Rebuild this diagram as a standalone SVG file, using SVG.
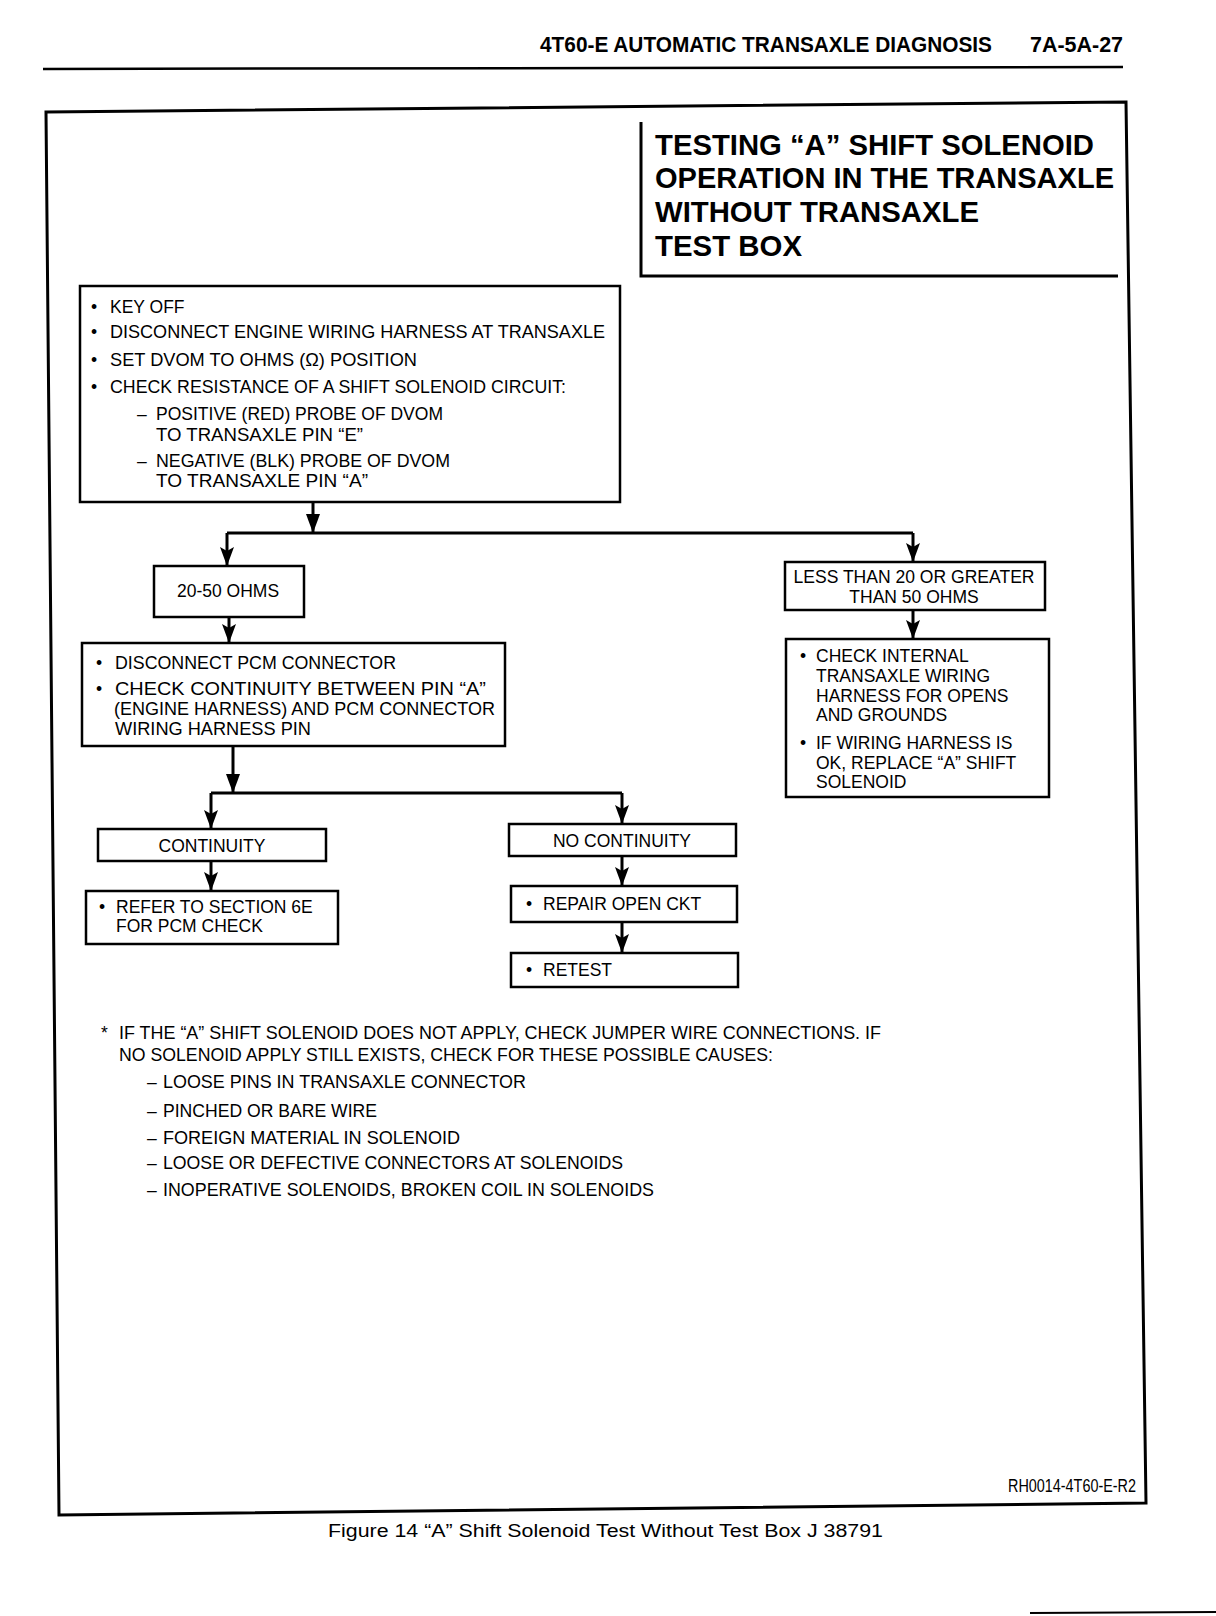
<svg xmlns="http://www.w3.org/2000/svg" width="1216" height="1616" viewBox="0 0 1216 1616">
<style>
.t{font-family:"Liberation Sans",Arial,Helvetica,sans-serif;font-size:17.5px;fill:#000}
.b{font-family:"Liberation Sans",Arial,Helvetica,sans-serif;font-weight:bold;fill:#000}
.box{fill:#fff;stroke:#000;stroke-width:2.5}
.c{stroke:#000;stroke-width:3;fill:none}
.frame{fill:none;stroke:#000;stroke-width:3}
.mid{text-anchor:middle}
</style>
<defs>
<marker id="ah" markerUnits="userSpaceOnUse" markerWidth="20" markerHeight="14" refX="19" refY="7" orient="auto">
<path d="M0,0 L19,7 L0,14 L4,7 z" fill="#000"/>
</marker>
</defs>
<rect width="1216" height="1616" fill="#fff"/>
<g id="header">
<text class="b" x="540" y="52" font-size="22" textLength="452" lengthAdjust="spacingAndGlyphs">4T60-E AUTOMATIC TRANSAXLE DIAGNOSIS</text>
<text class="b" x="1030" y="52" font-size="22" textLength="93" lengthAdjust="spacingAndGlyphs">7A-5A-27</text>
<line x1="43" y1="69" x2="1123" y2="67" stroke="#000" stroke-width="2.5"/>
</g>
<g id="frame">
<polygon class="frame" points="46,112 1126,102 1146,1503 59,1515"/>
</g>
<g id="title">
<path d="M641,122 L641,276 L1118,276" class="c" stroke-width="2"/>
<text class="b" x="655" y="155" font-size="30" textLength="439" lengthAdjust="spacingAndGlyphs">TESTING “A” SHIFT SOLENOID</text>
<text class="b" x="655" y="188" font-size="30" textLength="459" lengthAdjust="spacingAndGlyphs">OPERATION IN THE TRANSAXLE</text>
<text class="b" x="655" y="222" font-size="30" textLength="324" lengthAdjust="spacingAndGlyphs">WITHOUT TRANSAXLE</text>
<text class="b" x="655" y="256" font-size="30" textLength="147" lengthAdjust="spacingAndGlyphs">TEST BOX</text>
</g>
<g id="connectors">
<path class="c" d="M313,502 L313,533"/>
<path class="c" d="M227,533 L913,533"/>
<path class="c" d="M227,533 L227,566" marker-end="url(#ah)"/>
<path class="c" d="M913,533 L913,562" marker-end="url(#ah)"/>
<path class="c" d="M229,617 L229,643" marker-end="url(#ah)"/>
<path class="c" d="M233,746 L233,793"/>
<path class="c" d="M211,793 L622,793"/>
<path class="c" d="M211,793 L211,829" marker-end="url(#ah)"/>
<path class="c" d="M622,793 L622,824" marker-end="url(#ah)"/>
<path class="c" d="M211,861 L211,891" marker-end="url(#ah)"/>
<path class="c" d="M622,856 L622,886" marker-end="url(#ah)"/>
<path class="c" d="M622,922 L622,953" marker-end="url(#ah)"/>
<path class="c" d="M913,610 L913,639" marker-end="url(#ah)"/>
<path d="M313,514 L306,514 L313,533 L320,514 z" fill="#000"/>
<path d="M233,774 L226,774 L233,793 L240,774 z" fill="#000"/>
</g>
<g id="n-start">
<rect class="box" x="80" y="286" width="540" height="216"/>
<text class="t" x="91" y="313">•</text><text class="t" x="110" y="313">KEY OFF</text>
<text class="t" x="91" y="338">•</text><text class="t" x="110" y="338" textLength="495" lengthAdjust="spacingAndGlyphs">DISCONNECT ENGINE WIRING HARNESS AT TRANSAXLE</text>
<text class="t" x="91" y="366">•</text><text class="t" x="110" y="366" textLength="307" lengthAdjust="spacingAndGlyphs">SET DVOM TO OHMS (Ω) POSITION</text>
<text class="t" x="91" y="393">•</text><text class="t" x="110" y="393" textLength="456" lengthAdjust="spacingAndGlyphs">CHECK RESISTANCE OF A SHIFT SOLENOID CIRCUIT:</text>
<text class="t" x="137" y="420">–</text><text class="t" x="156" y="420" textLength="287" lengthAdjust="spacingAndGlyphs">POSITIVE (RED) PROBE OF DVOM</text>
<text class="t" x="156" y="441" textLength="207" lengthAdjust="spacingAndGlyphs">TO TRANSAXLE PIN “E”</text>
<text class="t" x="137" y="467">–</text><text class="t" x="156" y="467" textLength="294" lengthAdjust="spacingAndGlyphs">NEGATIVE (BLK) PROBE OF DVOM</text>
<text class="t" x="156" y="487" textLength="212" lengthAdjust="spacingAndGlyphs">TO TRANSAXLE PIN “A”</text>
</g>
<g id="n-2050">
<rect class="box" x="154" y="566" width="150" height="51"/>
<text class="t mid" x="228" y="597">20-50 OHMS</text>
</g>
<g id="n-pcm">
<rect class="box" x="82" y="643" width="423" height="103"/>
<text class="t" x="96" y="669">•</text><text class="t" x="115" y="669" textLength="281" lengthAdjust="spacingAndGlyphs">DISCONNECT PCM CONNECTOR</text>
<text class="t" x="96" y="695">•</text><text class="t" x="115" y="695" textLength="371" lengthAdjust="spacingAndGlyphs">CHECK CONTINUITY BETWEEN PIN “A”</text>
<text class="t" x="114" y="715" textLength="381" lengthAdjust="spacingAndGlyphs">(ENGINE HARNESS) AND PCM CONNECTOR</text>
<text class="t" x="115" y="735" textLength="196" lengthAdjust="spacingAndGlyphs">WIRING HARNESS PIN</text>
</g>
<g id="n-cont">
<rect class="box" x="98" y="829" width="228" height="32"/>
<text class="t mid" x="212" y="852">CONTINUITY</text>
</g>
<g id="n-refer">
<rect class="box" x="86" y="891" width="252" height="53"/>
<text class="t" x="99" y="913">•</text><text class="t" x="116" y="913">REFER TO SECTION 6E</text>
<text class="t" x="116" y="932">FOR PCM CHECK</text>
</g>
<g id="n-nocont">
<rect class="box" x="509" y="824" width="227" height="32"/>
<text class="t mid" x="622" y="847">NO CONTINUITY</text>
</g>
<g id="n-repair">
<rect class="box" x="511" y="886" width="226" height="36"/>
<text class="t" x="526" y="910">•</text><text class="t" x="543" y="910">REPAIR OPEN CKT</text>
</g>
<g id="n-retest">
<rect class="box" x="511" y="953" width="227" height="34"/>
<text class="t" x="526" y="976">•</text><text class="t" x="543" y="976">RETEST</text>
</g>
<g id="n-less">
<rect class="box" x="785" y="562" width="260" height="48"/>
<text class="t mid" x="914" y="583" textLength="241" lengthAdjust="spacingAndGlyphs">LESS THAN 20 OR GREATER</text>
<text class="t mid" x="914" y="603">THAN 50 OHMS</text>
</g>
<g id="n-internal">
<rect class="box" x="786" y="639" width="263" height="158"/>
<text class="t" x="800" y="662">•</text><text class="t" x="816" y="662">CHECK INTERNAL</text>
<text class="t" x="816" y="682">TRANSAXLE WIRING</text>
<text class="t" x="816" y="702">HARNESS FOR OPENS</text>
<text class="t" x="816" y="721">AND GROUNDS</text>
<text class="t" x="800" y="749">•</text><text class="t" x="816" y="749">IF WIRING HARNESS IS</text>
<text class="t" x="816" y="769">OK, REPLACE “A” SHIFT</text>
<text class="t" x="816" y="788">SOLENOID</text>
</g>
<g id="notes">
<text class="t" x="101" y="1039">*</text>
<text class="t" x="119" y="1039" textLength="762" lengthAdjust="spacingAndGlyphs">IF THE “A” SHIFT SOLENOID DOES NOT APPLY, CHECK JUMPER WIRE CONNECTIONS. IF</text>
<text class="t" x="119" y="1061" textLength="654" lengthAdjust="spacingAndGlyphs">NO SOLENOID APPLY STILL EXISTS, CHECK FOR THESE POSSIBLE CAUSES:</text>
<text class="t" x="147" y="1088">–</text><text class="t" x="163" y="1088" textLength="363" lengthAdjust="spacingAndGlyphs">LOOSE PINS IN TRANSAXLE CONNECTOR</text>
<text class="t" x="147" y="1117">–</text><text class="t" x="163" y="1117" textLength="214" lengthAdjust="spacingAndGlyphs">PINCHED OR BARE WIRE</text>
<text class="t" x="147" y="1144">–</text><text class="t" x="163" y="1144" textLength="297" lengthAdjust="spacingAndGlyphs">FOREIGN MATERIAL IN SOLENOID</text>
<text class="t" x="147" y="1169">–</text><text class="t" x="163" y="1169" textLength="460" lengthAdjust="spacingAndGlyphs">LOOSE OR DEFECTIVE CONNECTORS AT SOLENOIDS</text>
<text class="t" x="147" y="1196">–</text><text class="t" x="163" y="1196" textLength="491" lengthAdjust="spacingAndGlyphs">INOPERATIVE SOLENOIDS, BROKEN COIL IN SOLENOIDS</text>
</g>
<g id="footer">
<text class="t" x="1008" y="1492" font-size="12.5" textLength="128" lengthAdjust="spacingAndGlyphs">RH0014-4T60-E-R2</text>
<text class="t" x="328" y="1537" font-size="18" textLength="555" lengthAdjust="spacingAndGlyphs">Figure 14 “A” Shift Solenoid Test Without Test Box J 38791</text>
<line x1="1030" y1="1613" x2="1216" y2="1612" stroke="#000" stroke-width="2"/>
</g>
</svg>
